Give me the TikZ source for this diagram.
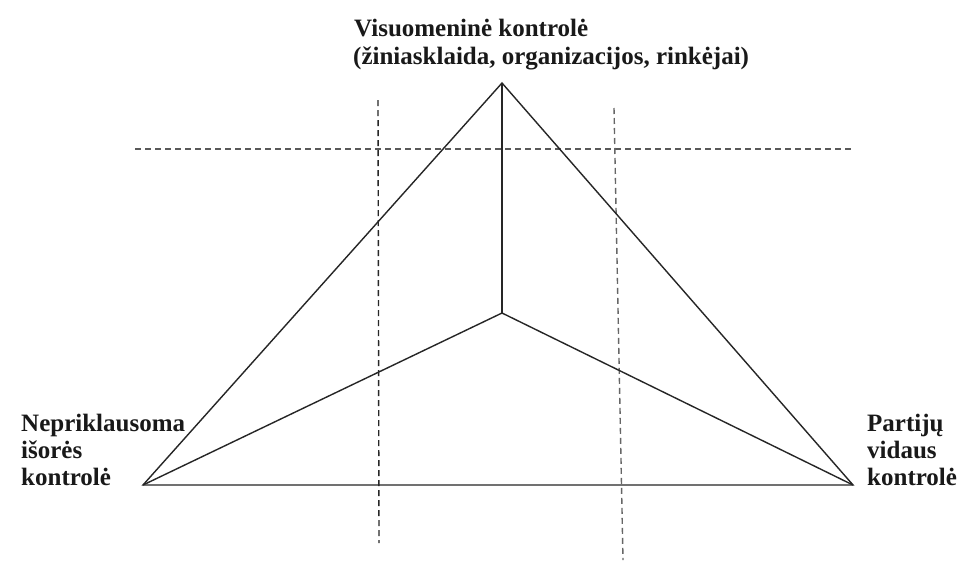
\documentclass[tikz,border=0pt]{standalone}
\usepackage{fontspec}
\setmainfont{Liberation Serif}
\begin{document}
\begin{tikzpicture}[x=1pt,y=-1pt,
  lbl/.style={anchor=base west, inner sep=0pt, font=\fontsize{25}{30}\selectfont\bfseries, text=black!90},
  solidline/.style={line width=1.4pt, draw=black!85},
  guide/.style={line width=1.4pt, draw=black!75, dash pattern=on 6pt off 4pt}]
\useasboundingbox[fill=white] (0,0) rectangle (963,587);
% vertices
\coordinate (A) at (502,83);
\coordinate (L) at (143,485);
\coordinate (R) at (853,485);
\coordinate (C) at (502,313);
% guide line ends
\coordinate (H1) at (135,149);
\coordinate (H2) at (853,149);
\coordinate (V1) at (378,100);
\coordinate (V2) at (379,543);
\coordinate (V3) at (614,108);
\coordinate (V4) at (623,560);
% dashed guides
\draw[guide, draw=black!65] (H1) -- (H2);
\draw[guide, draw=black!85] (V1) -- (V2);
\draw[guide, draw=black!60] (V3) -- (V4);
% pyramid
\draw[solidline, line join=miter] (A) -- (L) -- (R) -- cycle;
\draw[solidline] (A) -- (C);
\draw[solidline] (L) -- (C);
\draw[solidline] (R) -- (C);
% labels
\node[lbl] (t1) at (354,36) {Visuomeninė kontrolė};
\node[lbl] (t2) at (353,64) {(žiniasklaida, organizacijos, rinkėjai)};
\node[lbl] (l1) at (21,431) {Nepriklausoma};
\node[lbl] (l2) at (21,458) {išorės};
\node[lbl] (l3) at (21,485) {kontrolė};
\node[lbl] (r1) at (867,431) {Partijų};
\node[lbl] (r2) at (867,458) {vidaus};
\node[lbl] (r3) at (867,485) {kontrolė};
\end{tikzpicture}
\end{document}
